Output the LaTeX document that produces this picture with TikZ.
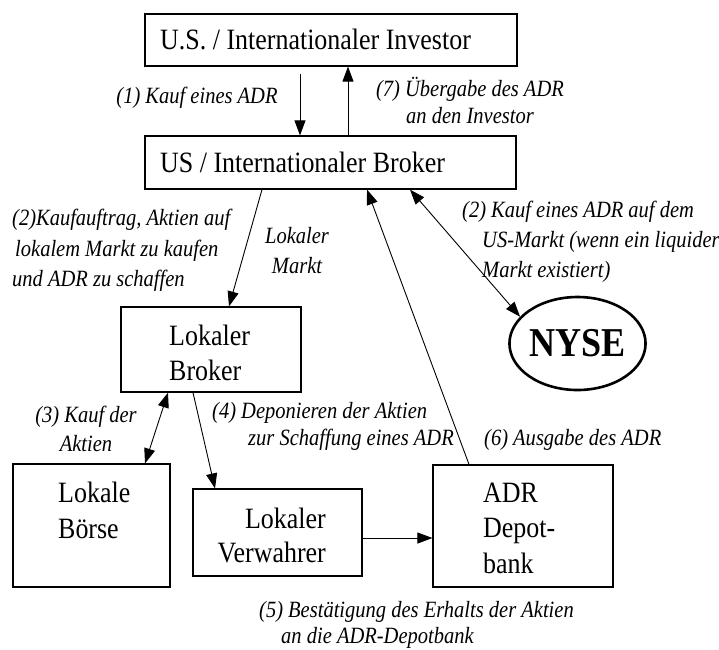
\documentclass[tikz,border=0pt]{standalone}
\usepackage{fontspec}
\setmainfont[FakeStretch=0.88]{Liberation Serif}
\usetikzlibrary{arrows.meta,shapes.geometric}
\begin{document}
\begin{tikzpicture}[x=1pt,y=-1pt,>={Triangle[length=15pt,width=11pt]},
  frame/.style={draw=black,line width=1.2pt,inner sep=0pt},
  btext/.style={inner sep=0pt,align=left,font=\fontsize{29.5}{35}\selectfont},
  lab/.style={inner sep=0pt,font=\fontsize{23.3}{29}\selectfont\itshape},
  conn/.style={draw=black,line width=0.9pt}]
\useasboundingbox (0,0) rectangle (719,649);
\fill[white] (0,0) rectangle (719,649);

% boxes
\node[frame,minimum width=372pt,minimum height=52pt] (inv) at (331,40) {};
\node[btext,anchor=base west] (invT) at (160,49) {U.S. / Internationaler Investor};
\node[frame,minimum width=371pt,minimum height=53pt] (brk) at (330.5,162.5) {};
\node[btext,anchor=base west] (brkT) at (160,172) {US / Internationaler Broker};
\node[frame,minimum width=180pt,minimum height=85pt] (lbr) at (211,349.5) {};
\node[btext,anchor=north west] (lbrT) at (169,325) {Lokaler\\Broker};
\node[frame,minimum width=157pt,minimum height=123pt] (boe) at (91.5,525.5) {};
\node[btext,anchor=north west,font=\fontsize{29.5}{36}\selectfont] (boeT) at (58,482) {Lokale\\Börse};
\node[frame,minimum width=169pt,minimum height=87pt] (ver) at (277.5,532.5) {};
\node[btext,align=right,anchor=north east,font=\fontsize{29.5}{34}\selectfont] (verT) at (326,508) {Lokaler\\Verwahrer};
\node[frame,minimum width=180pt,minimum height=122pt] (adr) at (523,526) {};
\node[btext,anchor=north west,font=\fontsize{29.5}{35.5}\selectfont] (adrT) at (483,482.5) {ADR\\Depot-\\bank};
\node[draw=black,ellipse,line width=2.6pt,minimum width=119pt,minimum height=93pt,inner sep=0pt,
      font=\fontsize{41}{44}\selectfont\bfseries] (nyse) at (577.5,343.5) {NYSE};

% connectors
\coordinate (c1) at (300,74);
\draw[conn,->] (c1) -- (c1 |- brk.north);
\coordinate (c7) at (348,0);
\draw[conn,->] (brk.north -| c7) -- (inv.south -| c7);
\coordinate (c2a) at (262,0); \coordinate (c2b) at (229,0);
\draw[conn,->] (brk.south -| c2a) -- (lbr.north -| c2b);
\coordinate (c6a) at (469,0); \coordinate (c6b) at (367,0);
\draw[conn,->] (adr.north -| c6a) -- (brk.south -| c6b);
\coordinate (cn) at (410,0);
\draw[conn,<->] (brk.south -| cn) -- (nyse.155);
\coordinate (c3a) at (145,0); \coordinate (c3b) at (168,0);
\draw[conn,<->] (boe.north -| c3a) -- (lbr.south -| c3b);
\coordinate (c4a) at (193,0); \coordinate (c4b) at (215,0);
\draw[conn,->] (lbr.south -| c4a) -- (ver.north -| c4b);
\coordinate (c5) at (0,538);
\draw[conn,->] (ver.east |- c5) -- (adr.west |- c5);

% labels
\node[lab,anchor=base] (l1) at (197,103) {(1) Kauf eines ADR};
\node[lab,align=center,anchor=north,font=\fontsize{23.3}{27}\selectfont\itshape] (l7) at (470,77) {(7) Übergabe des ADR\\an den Investor};
\node[lab,align=left,anchor=north west,font=\fontsize{23.3}{30.5}\selectfont\itshape] (l2a) at (12,209) {(2)Kaufauftrag, Aktien auf\\\hspace*{3pt}lokalem Markt zu kaufen\\und ADR zu schaffen};
\node[lab,align=center,anchor=north,font=\fontsize{23.3}{30}\selectfont\itshape] (lm) at (297,227) {Lokaler\\Markt};
\node[lab,align=left,anchor=north west,font=\fontsize{23.3}{30}\selectfont\itshape] (l2b) at (462,201) {(2) Kauf eines ADR auf dem\\\hspace*{20pt}US-Markt (wenn ein liquider\\\hspace*{20pt}Markt existiert)};
\node[lab,align=center,anchor=north] (l3) at (86,406) {(3) Kauf der\\Aktien};
\node[lab,align=left,anchor=north west,font=\fontsize{23.3}{27}\selectfont\itshape] (l4) at (212,402) {(4) Deponieren der Aktien\\\hspace*{36pt}zur Schaffung eines ADR};
\node[lab,anchor=base west] (l6) at (484,445) {(6) Ausgabe des ADR};
\node[lab,align=left,anchor=north west,font=\fontsize{23.3}{26}\selectfont\itshape] (l5) at (259,601) {(5) Bestätigung des Erhalts der Aktien\\\hspace*{22pt}an die ADR-Depotbank};
\end{tikzpicture}
\end{document}
